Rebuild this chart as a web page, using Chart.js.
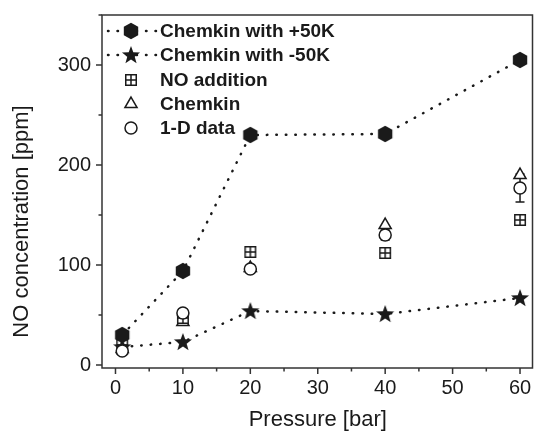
<!DOCTYPE html>
<html><head><meta charset="utf-8">
<script src="https://cdn.jsdelivr.net/npm/chart.js@4/dist/chart.umd.min.js"></script>
<style>html,body{margin:0;padding:0;background:#fff}#wrap{width:542px;height:439px;position:relative}</style>
</head><body><div id="wrap"><canvas id="c"></canvas></div>
<script>
const pressures = [1, 10, 20, 40, 60];
const plus50K = [30, 94, 230, 231, 305];
const minus50K = [18, 23, 54, 51, 67];
const noAddition = [20, 47, 113, 112, 145];
const chemkin = [16, 43, 97, 140, 190];
const oneD = [14, 52, 96, 130, 177];
const oneDErr = [3, 3, 2, 5, 14];
const xTicks = [0, 10, 20, 30, 40, 50, 60];
const xMinor = [5, 15, 25, 35, 45, 55];
const yTicks = [0, 100, 200, 300];
const yMinor = [50, 150, 250, 350];
const legendLabels = ['Chemkin with +50K', 'Chemkin with -50K', 'NO addition', 'Chemkin', '1-D data'];
const xTitle = 'Pressure [bar]';
const yTitle = 'NO concentration [ppm]';

const FONT = "'Liberation Sans', Arial, sans-serif";
const INK = '#1a1a1a';

function mkCanvas(w, h, draw) { const c = document.createElement('canvas'); c.width = w; c.height = h; draw(c.getContext('2d'), w, h); return c; }
const hexImg = mkCanvas(18, 18, (ctx) => {
  ctx.beginPath();
  for (let i = 0; i < 6; i++) { const a = -Math.PI / 2 + i * Math.PI / 3; const px = 9 + 8.3 * Math.cos(a), py = 9 + 8.3 * Math.sin(a); i ? ctx.lineTo(px, py) : ctx.moveTo(px, py); }
  ctx.closePath(); ctx.fillStyle = INK; ctx.fill();
});
const starImg = mkCanvas(20, 20, (ctx) => {
  ctx.beginPath();
  for (let i = 0; i < 10; i++) { const r = i % 2 ? 3.9 : 9.5; const a = -Math.PI / 2 + i * Math.PI / 5; const px = 10 + r * Math.cos(a), py = 10.5 + r * Math.sin(a); i ? ctx.lineTo(px, py) : ctx.moveTo(px, py); }
  ctx.closePath(); ctx.fillStyle = INK; ctx.fill();
});
const sqImg = mkCanvas(14, 14, (ctx) => {
  ctx.fillStyle = '#fff'; ctx.fillRect(1.5, 1.5, 11, 11);
  ctx.strokeStyle = INK; ctx.lineWidth = 1.5;
  ctx.strokeRect(1.75, 1.75, 10.5, 10.5);
  ctx.beginPath(); ctx.moveTo(7, 2); ctx.lineTo(7, 12); ctx.moveTo(2, 7); ctx.lineTo(12, 7); ctx.stroke();
});

const toPts = (ys) => pressures.map((p, i) => ({ x: p, y: ys[i] }));

const errPlugin = {
  id: 'errbars',
  beforeDatasetsDraw(chart) {
    const { ctx, scales: { x, y } } = chart;
    ctx.save(); ctx.strokeStyle = INK; ctx.lineWidth = 1.5;
    pressures.forEach((p, i) => {
      const px = x.getPixelForValue(p);
      const y1 = y.getPixelForValue(oneD[i] - oneDErr[i]), y2 = y.getPixelForValue(oneD[i] + oneDErr[i]);
      ctx.beginPath(); ctx.moveTo(px, y1); ctx.lineTo(px, y2);
      ctx.moveTo(px - 4.5, y1); ctx.lineTo(px + 4.5, y1);
      ctx.moveTo(px - 4.5, y2); ctx.lineTo(px + 4.5, y2);
      ctx.stroke();
    });
    ctx.restore();
  }
};

const framePlugin = {
  id: 'frame',
  afterDraw(chart) {
    const { ctx, chartArea: a, scales: { x, y } } = chart;
    ctx.save();
    ctx.strokeStyle = '#333'; ctx.lineWidth = 1.5;
    ctx.strokeRect(a.left, a.top, a.right - a.left - 1, a.bottom - a.top);
    ctx.beginPath();
    xTicks.forEach(v => { const px = x.getPixelForValue(v); ctx.moveTo(px, a.bottom); ctx.lineTo(px, a.bottom + 6); });
    xMinor.forEach(v => { const px = x.getPixelForValue(v); ctx.moveTo(px, a.bottom); ctx.lineTo(px, a.bottom + 3.5); });
    yTicks.forEach(v => { const py = y.getPixelForValue(v); ctx.moveTo(a.left, py); ctx.lineTo(a.left - 6, py); });
    yMinor.forEach(v => { const py = y.getPixelForValue(v); ctx.moveTo(a.left, py); ctx.lineTo(a.left - 3.5, py); });
    ctx.stroke();

    // axis titles
    ctx.fillStyle = INK; ctx.font = '22px ' + FONT; ctx.textAlign = 'center'; ctx.textBaseline = 'middle';
    ctx.fillText(xTitle, (a.left + a.right) / 2, 420);
    ctx.save(); ctx.translate(22, (a.top + a.bottom) / 2 + 30); ctx.rotate(-Math.PI / 2); ctx.fillText(yTitle, 0, 0); ctx.restore();

    // legend
    const rowsY = [31, 55, 80, 104, 128];
    const mx = 131;
    ctx.font = 'bold 19px ' + FONT; ctx.textAlign = 'left';
    legendLabels.forEach((lab, i) => {
      const yy = rowsY[i];
      if (i < 2) {
        ctx.save(); ctx.strokeStyle = INK; ctx.lineWidth = 2.5; ctx.lineCap = 'round'; ctx.setLineDash([0.5, 9]);
        ctx.beginPath(); ctx.moveTo(108, yy); ctx.lineTo(156, yy); ctx.stroke(); ctx.restore();
        const img = i === 0 ? hexImg : starImg;
        ctx.drawImage(img, mx - img.width / 2, yy - img.height / 2);
      } else if (i === 2) {
        ctx.drawImage(sqImg, mx - 7, yy - 7);
      } else {
        ctx.save(); ctx.strokeStyle = INK; ctx.fillStyle = '#fff'; ctx.lineWidth = 1.5;
        Chart.helpers.drawPoint(ctx, { pointStyle: i === 3 ? 'triangle' : 'circle', radius: i === 3 ? 7 : 6, borderWidth: 1.5 }, mx, yy);
        ctx.restore();
      }
      ctx.fillStyle = INK;
      ctx.fillText(lab, 160, yy + 1);
    });
    ctx.restore();
  }
};

const lineStyle = { showLine: true, borderColor: INK, borderWidth: 2.5, borderDash: [0.5, 9], borderCapStyle: 'round', tension: 0, fill: false };

new Chart(document.getElementById('c'), {
  type: 'scatter',
  data: {
    datasets: [
      Object.assign({ label: legendLabels[0], data: toPts(plus50K), pointStyle: hexImg, order: 1 }, lineStyle),
      Object.assign({ label: legendLabels[1], data: toPts(minus50K), pointStyle: starImg, order: 2 }, lineStyle),
      { label: legendLabels[2], data: toPts(noAddition), pointStyle: sqImg, order: 3 },
      { label: legendLabels[3], data: toPts(chemkin), pointStyle: 'triangle', pointRadius: 7, backgroundColor: '#fff', borderColor: INK, borderWidth: 1.5, order: 4 },
      { label: legendLabels[4], data: toPts(oneD), pointStyle: 'circle', pointRadius: 6, backgroundColor: '#fff', borderColor: INK, borderWidth: 1.5, order: 0 }
    ]
  },
  options: {
    responsive: true, maintainAspectRatio: false, animation: false, devicePixelRatio: 1,
    layout: { padding: { top: 13, right: 1, left: 0, bottom: 0 } },
    plugins: { legend: { display: false }, tooltip: { enabled: false } },
    scales: {
      x: {
        type: 'linear', min: -2, max: 62,
        grid: { display: false }, border: { display: false },
        ticks: { font: { size: 20, family: FONT }, color: INK, padding: 0 },
        afterBuildTicks: (s) => { s.ticks = xTicks.map(v => ({ value: v })); },
        afterFit: (s) => { s.height = 71; }
      },
      y: {
        type: 'linear', min: -3, max: 350,
        grid: { display: false }, border: { display: false },
        ticks: { font: { size: 20, family: FONT }, color: INK, padding: 3 },
        afterBuildTicks: (s) => { s.ticks = yTicks.map(v => ({ value: v })); },
        afterFit: (s) => { s.width = 102; }
      }
    }
  },
  plugins: [errPlugin, framePlugin]
});
</script>
</body></html>
